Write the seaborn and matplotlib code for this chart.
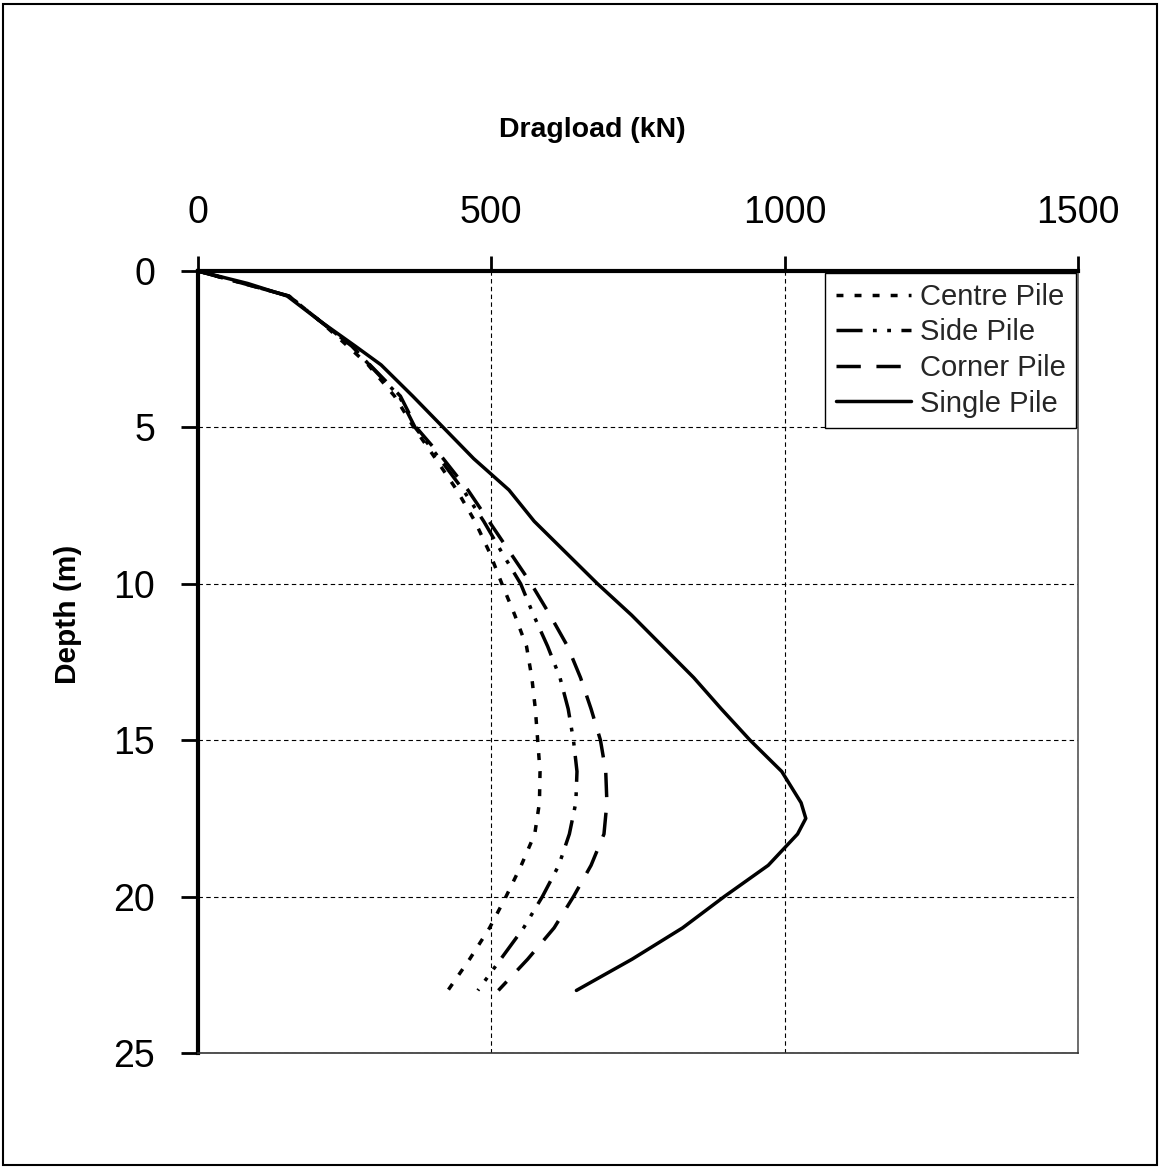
import matplotlib
matplotlib.use("Agg")
import matplotlib.pyplot as plt
from matplotlib.patches import Rectangle
import seaborn as sns
import pandas as pd

# Depth below ground (m) for the pile-group curves
group_depth = [0, 0.8, 1.6, 2.4, 3, 4, 5, 6, 7, 8, 9, 10, 11, 12, 13, 14,
               15, 16, 17, 18, 19, 20, 21, 22, 23]
# Dragload (kN) along the pile for each pile position in the group
centre_pile = [0, 155, 208, 255, 290, 335, 368, 405, 441, 472, 497, 518, 540,
               560, 569, 575, 579, 583, 582, 574, 551, 525, 497, 463, 426]
side_pile = [0, 155, 208, 262, 292, 343, 370, 412, 452, 487, 518, 550, 572,
             596, 617, 631, 640, 646, 644, 633, 615, 587, 555, 516, 477]
corner_pile = [0, 155, 208, 262, 293, 345, 372, 418, 460, 496, 532, 568, 600,
               630, 652, 670, 686, 695, 697, 692, 670, 640, 607, 562, 512]

# Isolated single pile
single_depth = [0, 0.4, 0.8, 1.6, 2.4, 3, 4, 5, 6, 7, 8, 9, 10, 11, 12, 13,
                14, 15, 16, 17, 17.5, 18, 19, 20, 21, 22, 23]
single_pile = [0, 85, 152, 208, 268, 312, 366, 418, 470, 530, 573, 627, 681,
               739, 792, 845, 892, 941, 995, 1028, 1036, 1022, 972, 897, 826,
               740, 645]

x_ticks = [0, 500, 1000, 1500]
y_ticks = [0, 5, 10, 15, 20, 25]

sns.set_theme(style="white")
plt.rcParams["font.family"] = ["Liberation Sans", "DejaVu Sans"]

fig = plt.figure(figsize=(11.61, 11.67), dpi=100)
ax = fig.add_axes([198 / 1161, 1 - 1053 / 1167, 880 / 1161, 782 / 1167])

lw = 2.5
series = [
    ("Centre Pile", group_depth, centre_pile, (0, (2.0, 3.2))),
    ("Side Pile", group_depth, side_pile, (0, (7.5, 3, 1.1, 3, 1.1, 3))),
    ("Corner Pile", group_depth, corner_pile, (0, (7, 4.5))),
    ("Single Pile", single_depth, single_pile, "-"),
]
for name, depth, load, ls in series:
    df = pd.DataFrame({"Dragload": load, "Depth": depth})
    sns.lineplot(data=df, x="Dragload", y="Depth", sort=False, estimator=None,
                 color="black", linewidth=lw, linestyle=ls, label=name, ax=ax)

ax.set_xlim(0, 1500)
ax.set_ylim(25, 0)
ax.set_xticks(x_ticks)
ax.set_yticks(y_ticks)
ax.xaxis.tick_top()
ax.xaxis.set_label_position("top")

ax.tick_params(axis="x", which="major", direction="out", length=11, width=2,
               pad=18, labelsize=27, colors="black", top=True, bottom=False)
ax.tick_params(axis="y", which="major", direction="out", length=12, width=2,
               pad=19, labelsize=27, colors="black", left=True, right=False)

ax.grid(True, color="black", linestyle=(0, (4, 3)), linewidth=0.8)
ax.set_axisbelow(True)

for side, width, col in [("left", 3.0, "black"), ("top", 3.0, "black"),
                         ("right", 1.2, "#555555"), ("bottom", 1.2, "#333333")]:
    ax.spines[side].set_visible(True)
    ax.spines[side].set_linewidth(width)
    ax.spines[side].set_color(col)

ax.set_xlabel("Dragload (kN)", fontsize=20.5, fontweight="bold", color="black")
ax.set_ylabel("Depth (m)", fontsize=21.5, fontweight="bold", color="black")
ax.xaxis.set_label_coords(0.448, 1.180)
ax.xaxis.label.set_va("center")
ax.yaxis.set_label_coords(-0.148, 0.561)
ax.yaxis.label.set_va("center")

leg = ax.legend(loc="upper right", bbox_to_anchor=(0.998, 0.998),
                borderaxespad=0, fontsize=21, frameon=True, fancybox=False,
                handlelength=2.6, handletextpad=0.3, labelspacing=0.26,
                borderpad=0.35)
leg.get_frame().set_edgecolor("black")
leg.get_frame().set_linewidth(1.0)
leg.get_frame().set_alpha(1.0)

# Frame around the whole figure
fig.patches.append(Rectangle((3 / 1161, 2 / 1167), 1154 / 1161, 1161 / 1167,
                             transform=fig.transFigure, fill=False,
                             edgecolor="black", linewidth=1.5))

fig.savefig("out.png", dpi=100, facecolor="white")
